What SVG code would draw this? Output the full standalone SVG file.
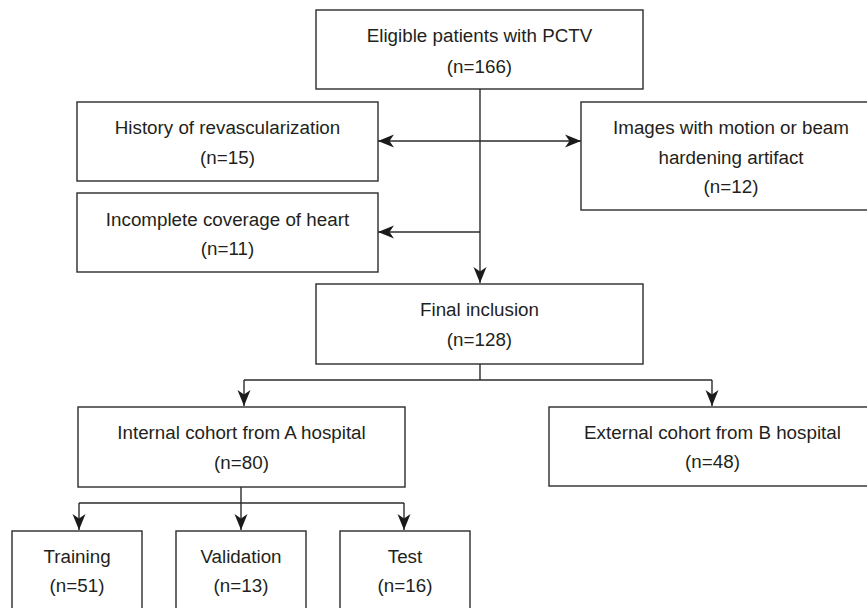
<svg xmlns="http://www.w3.org/2000/svg" width="867" height="608" viewBox="0 0 867 608">
<defs>
<style>
.box{fill:#fff;stroke:#2b2b2b;stroke-width:1.4}
.t{font-family:"Liberation Sans",Arial,sans-serif;font-size:18.8px;fill:#231f20;text-anchor:middle}
.c{fill:none;stroke:#2b2b2b;stroke-width:1.4}
</style>
<marker id="ah" markerUnits="userSpaceOnUse" markerWidth="20" markerHeight="16" viewBox="-17 -8 18 16" refX="0" refY="0" orient="auto">
<path d="M0,0 L-16,-6.5 L-11.5,0 L-16,6.5 Z" fill="#1a1a1a"/>
</marker>
</defs>
<rect width="867" height="608" fill="#fff"/>
<g id="connectors">
<path class="c" d="M480,89 V283" marker-end="url(#ah)"/>
<path class="c" d="M480,141 H378" marker-end="url(#ah)"/>
<path class="c" d="M480,141 H581" marker-end="url(#ah)"/>
<path class="c" d="M480,232 H378" marker-end="url(#ah)"/>
<path class="c" d="M480,364 V380"/>
<path class="c" d="M244,380 H712"/>
<path class="c" d="M244,380 V406" marker-end="url(#ah)"/>
<path class="c" d="M712,380 V406" marker-end="url(#ah)"/>
<path class="c" d="M241,487 V503"/>
<path class="c" d="M79,503 H404"/>
<path class="c" d="M79,503 V530" marker-end="url(#ah)"/>
<path class="c" d="M241,503 V530" marker-end="url(#ah)"/>
<path class="c" d="M404,503 V530" marker-end="url(#ah)"/>
</g>
<g id="eligible">
<rect class="box" x="316" y="10" width="327" height="79"/>
<text class="t" x="479.5" y="42">Eligible patients with PCTV</text>
<text class="t" x="479.5" y="73">(n=166)</text>
</g>
<g id="history">
<rect class="box" x="77" y="102" width="301" height="79"/>
<text class="t" x="227.5" y="134">History of revascularization</text>
<text class="t" x="227.5" y="163.5">(n=15)</text>
</g>
<g id="incomplete">
<rect class="box" x="77" y="193" width="301" height="79"/>
<text class="t" x="227.5" y="225.5">Incomplete coverage of heart</text>
<text class="t" x="227.5" y="255">(n=11)</text>
</g>
<g id="images">
<rect class="box" x="581" y="102" width="310" height="108"/>
<text class="t" x="731" y="134">Images with motion or beam</text>
<text class="t" x="731" y="163.5">hardening artifact</text>
<text class="t" x="731" y="193">(n=12)</text>
</g>
<g id="final">
<rect class="box" x="316" y="284" width="327" height="80"/>
<text class="t" x="479.5" y="316">Final inclusion</text>
<text class="t" x="479.5" y="345.5">(n=128)</text>
</g>
<g id="internal">
<rect class="box" x="78" y="407" width="327" height="80"/>
<text class="t" x="241.5" y="439">Internal cohort from A hospital</text>
<text class="t" x="241.5" y="469">(n=80)</text>
</g>
<g id="external">
<rect class="box" x="549" y="407" width="327" height="79"/>
<text class="t" x="712.5" y="439">External cohort from B hospital</text>
<text class="t" x="712.5" y="468">(n=48)</text>
</g>
<g id="training">
<rect class="box" x="12" y="531" width="130" height="90"/>
<text class="t" x="77" y="563">Training</text>
<text class="t" x="77" y="592">(n=51)</text>
</g>
<g id="validation">
<rect class="box" x="176" y="531" width="130" height="90"/>
<text class="t" x="241" y="563">Validation</text>
<text class="t" x="241" y="592">(n=13)</text>
</g>
<g id="test">
<rect class="box" x="340" y="531" width="130" height="90"/>
<text class="t" x="405" y="563">Test</text>
<text class="t" x="405" y="592">(n=16)</text>
</g>
</svg>
